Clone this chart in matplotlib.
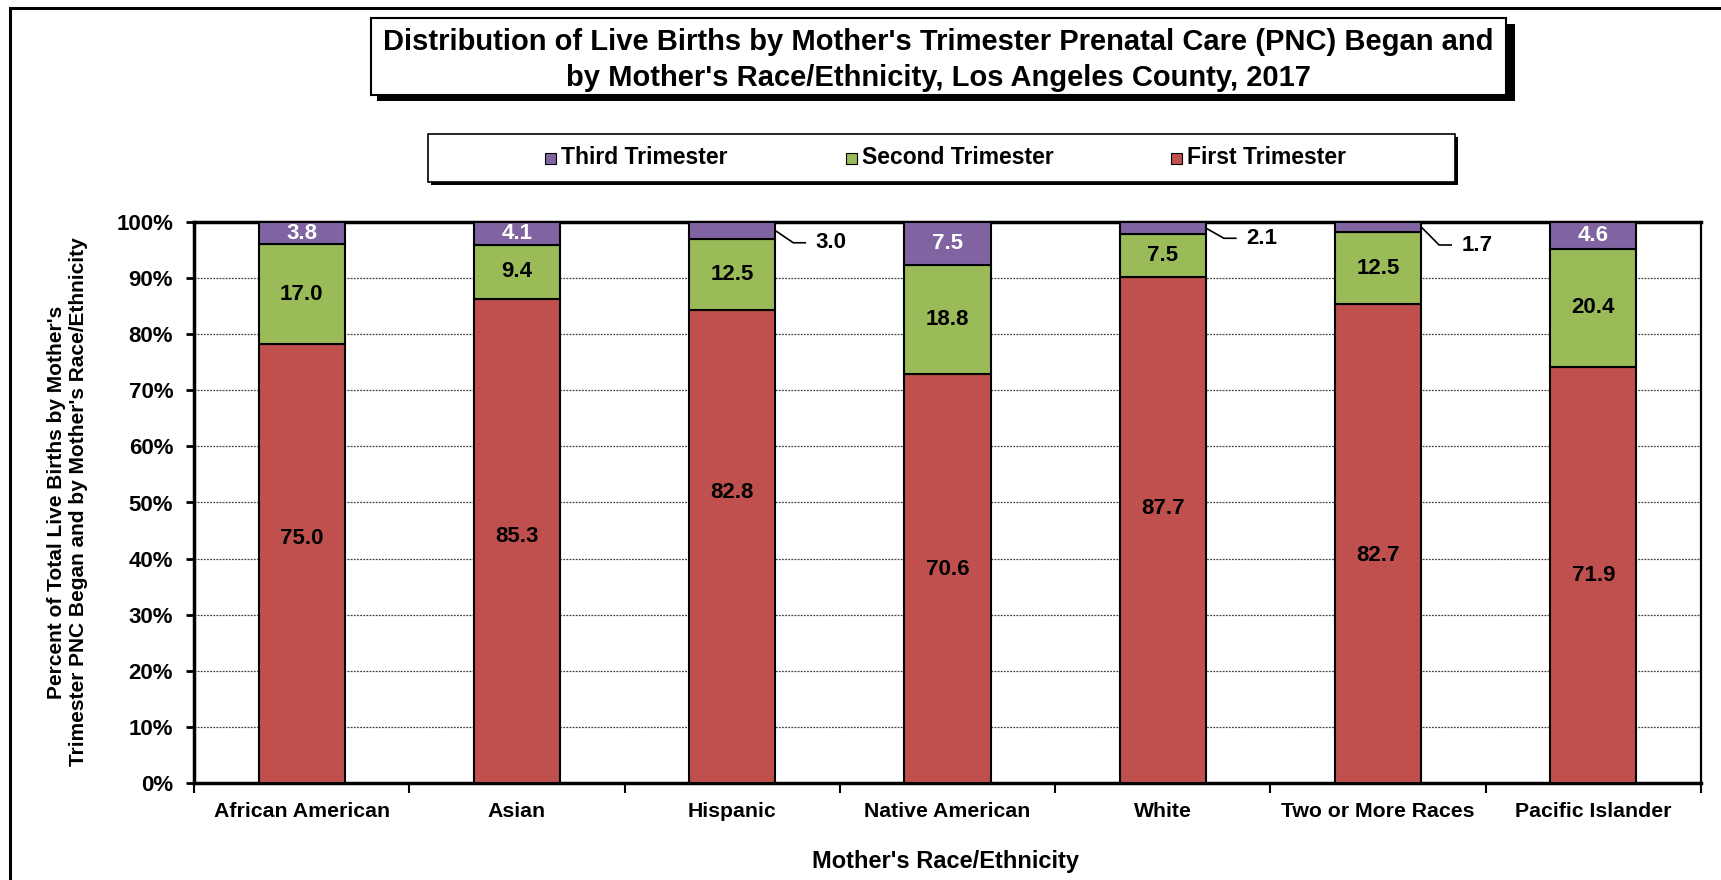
import numpy as np
import matplotlib
matplotlib.use("Agg")
import matplotlib.pyplot as plt
from matplotlib.patches import Rectangle

plt.rcParams["font.family"] = ["Liberation Sans", "DejaVu Sans"]
plt.rcParams["font.weight"] = "bold"

races = ["African American", "Asian", "Hispanic", "Native American",
         "White", "Two or More Races", "Pacific Islander"]
first = [75.0, 85.3, 82.8, 70.6, 87.7, 82.7, 71.9]
second = [17.0, 9.4, 12.5, 18.8, 7.5, 12.5, 20.4]
third = [3.8, 4.1, 3.0, 7.5, 2.1, 1.7, 4.6]

# label placement (percent of bar height)
first_label_at = [43.5, 43.9, 51.8, 38.0, 49.0, 40.5, 36.9]
outside_label_at = {2: 96.3, 4: 97.1, 5: 95.9}

RED = "#C0504D"
GREEN = "#9BBB59"
PURPLE = "#8064A2"

W, H = 1721, 880


def fx(px):
    return px / W


def fy(py):
    return 1 - py / H


f = np.array(first)
s = np.array(second)
t = np.array(third)
total = f + s + t
f_pct = f / total * 100
s_pct = s / total * 100
t_pct = t / total * 100
x = np.arange(len(races))

fig = plt.figure(figsize=(W / 100, H / 100), dpi=100)
ax = fig.add_axes([fx(194), fy(783), fx(1701) - fx(194), fy(222) - fy(783)])

bw = 0.4
ax.bar(x, f_pct, bw, color=RED, edgecolor="black", linewidth=1.5, zorder=3)
ax.bar(x, s_pct, bw, bottom=f_pct, color=GREEN, edgecolor="black", linewidth=1.5, zorder=3)
ax.bar(x, t_pct, bw, bottom=f_pct + s_pct, color=PURPLE, edgecolor="black", linewidth=1.5, zorder=3)

ax.set_xlim(-0.5, len(races) - 0.5)
ax.set_ylim(0, 100)
ax.set_yticks(np.arange(0, 101, 10))
ax.set_yticklabels([f"{v}%" for v in range(0, 101, 10)], fontsize=16, fontweight="bold")
ax.tick_params(axis="y", direction="out", length=6, width=2, pad=9)

ax.set_xticks(np.arange(-0.5, len(races), 1))
ax.set_xticklabels([])
ax.set_xticks(x, minor=True)
ax.set_xticklabels(races, minor=True, fontsize=15.3, fontweight="bold")
ax.tick_params(axis="x", which="major", direction="out", length=7, width=1.5)
ax.tick_params(axis="x", which="minor", length=0, pad=14)

ax.yaxis.grid(True, linestyle=(0, (1.5, 1)), color="#444444", linewidth=0.9)
ax.set_axisbelow(True)
for side in ["left", "top", "bottom"]:
    ax.spines[side].set_linewidth(2.5)
ax.spines["right"].set_linewidth(1.6)

# value labels
for i in x:
    ax.text(i, first_label_at[i], f"{first[i]:.1f}", ha="center", va="center",
            fontsize=16, fontweight="bold", color="black", zorder=5)
    ax.text(i, f_pct[i] + s_pct[i] / 2, f"{second[i]:.1f}", ha="center", va="center",
            fontsize=16, fontweight="bold", color="black", zorder=5)
    top_mid = f_pct[i] + s_pct[i] + t_pct[i] / 2
    if i in outside_label_at:
        ly = outside_label_at[i]
        xr = i + bw / 2
        ax.plot([xr, xr + 18 / 215.3, xr + 30 / 215.3], [top_mid, ly, ly],
                color="black", linewidth=1.2, zorder=5, clip_on=False)
        ax.text(xr + 40 / 215.3, ly, f"{third[i]:.1f}", ha="left", va="center",
                fontsize=16, fontweight="bold", color="black", zorder=5)
    else:
        ax.text(i, top_mid, f"{third[i]:.1f}", ha="center", va="center",
                fontsize=16, fontweight="bold", color="white", zorder=5)

# axis titles
fig.text(fx(57), fy(502), "Percent of Total Live Births by Mother's", rotation=90,
         ha="center", va="center", fontsize=15, fontweight="bold")
fig.text(fx(79), fy(502), "Trimester PNC Began and by Mother's Race/Ethnicity", rotation=90,
         ha="center", va="center", fontsize=15, fontweight="bold")
fig.text(fx(946), fy(861), "Mother's Race/Ethnicity", ha="center", va="center",
         fontsize=17, fontweight="bold")

# outer frame
fig.add_artist(Rectangle((fx(10), fy(H + 20)), fx(W + 20), fy(8) - fy(H + 20),
                         transform=fig.transFigure, fill=False, edgecolor="black", linewidth=2.2))

# title box with shadow
fig.add_artist(Rectangle((fx(377), fy(101)), fx(1515) - fx(377), fy(24) - fy(101),
                         transform=fig.transFigure, facecolor="black", edgecolor="none"))
fig.add_artist(Rectangle((fx(371), fy(95)), fx(1506) - fx(371), fy(18) - fy(95),
                         transform=fig.transFigure, facecolor="white", edgecolor="black", linewidth=1.5))
fig.text(fx(938), fy(42), "Distribution of Live Births by Mother's Trimester Prenatal Care (PNC) Began and",
         ha="center", va="center", fontsize=21, fontweight="bold")
fig.text(fx(938), fy(78), "by Mother's Race/Ethnicity, Los Angeles County, 2017",
         ha="center", va="center", fontsize=21, fontweight="bold")

# legend box
fig.add_artist(Rectangle((fx(431), fy(185)), fx(1458) - fx(431), fy(137) - fy(185),
                         transform=fig.transFigure, facecolor="black", edgecolor="none"))
fig.add_artist(Rectangle((fx(428), fy(182)), fx(1455) - fx(428), fy(134) - fy(182),
                         transform=fig.transFigure, facecolor="white", edgecolor="black", linewidth=1.2))
legend_items = [("Third Trimester", PURPLE, 545), ("Second Trimester", GREEN, 846),
                ("First Trimester", RED, 1171)]
for name, col, lx in legend_items:
    fig.add_artist(Rectangle((fx(lx), fy(164)), fx(11), fy(153) - fy(164),
                             transform=fig.transFigure, facecolor=col, edgecolor="black", linewidth=0.8))
    fig.text(fx(lx + 16), fy(158), name, ha="left", va="center", fontsize=16.5, fontweight="bold")

fig.savefig("out.png", dpi=100)
